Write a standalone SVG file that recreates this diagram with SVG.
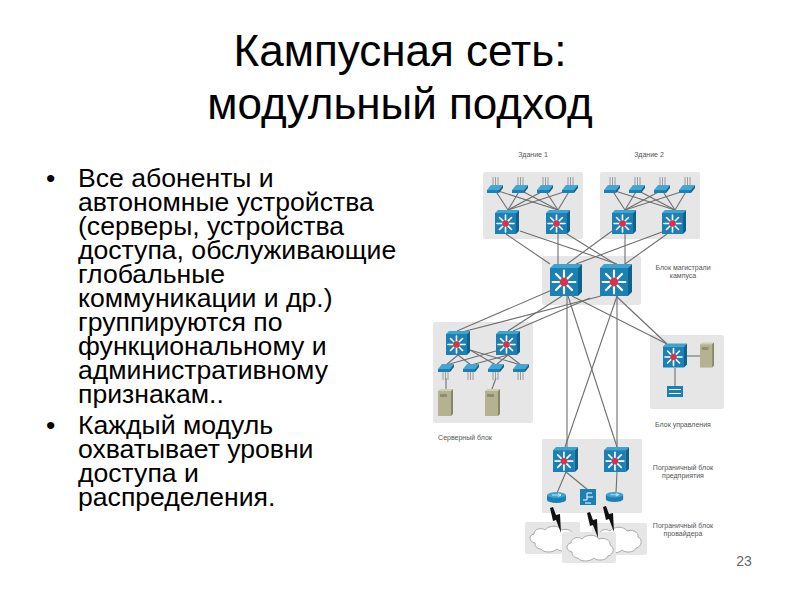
<svg xmlns="http://www.w3.org/2000/svg" xmlns:xlink="http://www.w3.org/1999/xlink" width="800" height="600" viewBox="0 0 800 600">
<style>
text{font-family:"Liberation Sans",Arial,sans-serif}
.title{font-size:44px;fill:#000;text-anchor:middle}
.body{font-size:26.6px;fill:#000}
.lab{font-size:7px;fill:#555;text-anchor:middle}
.panel{fill:#e6e6e6}
.c line{stroke:#6f6f6f;stroke-width:1.1}
.cloudp{fill:#fff;stroke:#aaa;stroke-width:1}
.bolt{fill:#111}
</style>
<defs>
<symbol id="sw" viewBox="0 0 24 24">
<polygon points="0,3 3,0 24,0 21,3" fill="#3fa3cf"/>
<polygon points="21,3 24,0 24,21 21,24" fill="#11618d"/>
<rect x="0" y="3" width="21" height="21" fill="#1b80b4"/>
<g stroke="#fff" stroke-width="1.6" stroke-linecap="round">
<line x1="10.500" y1="5" x2="10.500" y2="22"/><line x1="2" y1="13.500" x2="19" y2="13.500"/>
<line x1="4.500" y1="7.500" x2="16.500" y2="19.500"/><line x1="16.500" y1="7.500" x2="4.500" y2="19.500"/>
</g>
<circle cx="10.500" cy="13.500" r="3.300" fill="#d8324c"/>
</symbol>
<symbol id="acc" viewBox="0 0 16 16">
<g stroke="#888" stroke-width=".8"><line x1="6" y1="0" x2="6" y2="9"/><line x1="8.500" y1="0" x2="8.500" y2="9"/><line x1="11" y1="0" x2="11" y2="9"/></g>
<polygon points="0,13 4,8 16,8 12,13" fill="#44a6d2"/>
<polygon points="0,13 12,13 12,16 0,16" fill="#1b80b4"/>
<polygon points="12,13 16,8 16,11 12,16" fill="#11618d"/>
</symbol>
<symbol id="accd" viewBox="0 0 16 16">
<g stroke="#888" stroke-width=".8"><line x1="5" y1="7" x2="5" y2="16"/><line x1="7.500" y1="7" x2="7.500" y2="16"/><line x1="10" y1="7" x2="10" y2="16"/></g>
<polygon points="0,5 4,0 16,0 12,5" fill="#44a6d2"/>
<polygon points="0,5 12,5 12,8 0,8" fill="#1b80b4"/>
<polygon points="12,5 16,0 16,3 12,8" fill="#11618d"/>
</symbol>
<symbol id="srv" viewBox="0 0 15 27">
<polygon points="0,2 2,0 15,0 13,2" fill="#cfcfb4"/>
<rect x="0" y="2" width="13" height="25" fill="#b3b392"/>
<polygon points="13,2 15,0 15,25 13,27" fill="#85856a"/>
<rect x="2" y="5" width="7" height="3" fill="#8d8d72"/>
</symbol>
<symbol id="rt" viewBox="0 0 19 11">
<rect x="0" y="3" width="19" height="5" fill="#1b80b4"/>
<ellipse cx="9.500" cy="8" rx="9.500" ry="3" fill="#1b80b4"/>
<ellipse cx="9.500" cy="3" rx="9.500" ry="3" fill="#3fa3cf"/>
<path d="M5 3h9M11 1.500l3 1.500-3 1.500" stroke="#fff" stroke-width=".7" fill="none"/>
</symbol>
<path id="cloud" d="M8 20C2 19 1 12 7 11C7 6 14 4 18 7C22 2 32 2 35 7C40 5 47 8 46 13C51 15 50 23 44 24C42 29 33 29 30 26C26 30 16 30 14 26C11 26 8 24 8 20Z"/>
<polygon id="bolt" points="3,0 6,8 10,7 11,26 6,13 3,14 0,1"/>
</defs>
<rect width="800" height="600" fill="#fff"/>

<g id="slide-title">
<text class="title" x="400" y="66">Кампусная сеть:</text>
<text class="title" x="400" y="119">модульный подход</text>
</g>
<g id="slide-body">
<text class="body" x="46" y="187">•</text>
<text class="body" x="78" y="187">Все абоненты и</text>
<text class="body" x="78" y="211">автономные устройства</text>
<text class="body" x="78" y="235">(серверы, устройства</text>
<text class="body" x="78" y="259">доступа, обслуживающие</text>
<text class="body" x="78" y="283">глобальные</text>
<text class="body" x="78" y="307">коммуникации и др.)</text>
<text class="body" x="78" y="331">группируются по</text>
<text class="body" x="78" y="355">функциональному и</text>
<text class="body" x="78" y="379">административному</text>
<text class="body" x="78" y="403">признакам..</text>
<text class="body" x="46" y="434">•</text>
<text class="body" x="78" y="434">Каждый модуль</text>
<text class="body" x="78" y="458">охватывает уровни</text>
<text class="body" x="78" y="482">доступа и</text>
<text class="body" x="78" y="506">распределения.</text>
</g>
<text id="page-number" x="744" y="566" font-size="14" fill="#666" text-anchor="middle">23</text>

<g id="panels">
<rect class="panel" x="483" y="172" width="100" height="67" rx="2"/>
<rect class="panel" x="600" y="172" width="100" height="67" rx="2"/>
<rect class="panel" x="542" y="256" width="99" height="49" rx="2"/>
<rect class="panel" x="433" y="322" width="100" height="101" rx="2"/>
<rect class="panel" x="650" y="335" width="74" height="74" rx="2"/>
<rect class="panel" x="542" y="439" width="100" height="74" rx="2"/>
<rect class="panel" x="525" y="522" width="55" height="32" rx="2"/>
<rect class="panel" x="592" y="523" width="55" height="32" rx="2"/>
</g>

<g id="connectors" class="c">
<line x1="495" y1="190" x2="508" y2="210"/><line x1="520" y1="190" x2="508" y2="210"/><line x1="545" y1="190" x2="508" y2="210"/><line x1="570" y1="190" x2="508" y2="210"/>
<line x1="495" y1="190" x2="558" y2="210"/><line x1="520" y1="190" x2="558" y2="210"/><line x1="545" y1="190" x2="558" y2="210"/><line x1="570" y1="190" x2="558" y2="210"/>
<line x1="612" y1="190" x2="625" y2="210"/><line x1="637" y1="190" x2="625" y2="210"/><line x1="662" y1="190" x2="625" y2="210"/><line x1="687" y1="190" x2="625" y2="210"/>
<line x1="612" y1="190" x2="675" y2="210"/><line x1="637" y1="190" x2="675" y2="210"/><line x1="662" y1="190" x2="675" y2="210"/><line x1="687" y1="190" x2="675" y2="210"/>
<line x1="506" y1="234" x2="550" y2="264"/><line x1="520" y1="231" x2="617" y2="264"/><line x1="558" y1="234" x2="558" y2="264"/><line x1="567" y1="234" x2="617" y2="265"/>
<line x1="612" y1="231" x2="567" y2="264"/><line x1="625" y1="234" x2="625" y2="265"/><line x1="667" y1="234" x2="625" y2="264"/><line x1="662" y1="232" x2="576" y2="264"/>
<line x1="552" y1="290" x2="457" y2="331"/><line x1="562" y1="296" x2="508" y2="331"/><line x1="601" y1="296" x2="462" y2="332"/><line x1="590" y1="298" x2="513" y2="331"/>
<line x1="572" y1="296" x2="667" y2="344"/><line x1="616" y1="296" x2="667" y2="344"/>
<line x1="567" y1="296" x2="567" y2="447"/><line x1="568" y1="296" x2="617" y2="447"/><line x1="617" y1="296" x2="617" y2="447"/><line x1="617" y1="296" x2="565" y2="447"/>
<line x1="458" y1="355" x2="446" y2="365"/><line x1="458" y1="355" x2="471" y2="365"/><line x1="470" y1="350" x2="496" y2="365"/><line x1="470" y1="350" x2="521" y2="365"/>
<line x1="496" y1="351" x2="446" y2="365"/><line x1="508" y1="355" x2="471" y2="365"/><line x1="508" y1="355" x2="496" y2="365"/><line x1="508" y1="355" x2="521" y2="365"/>
<line x1="446" y1="378" x2="446" y2="389"/><line x1="496" y1="378" x2="492" y2="389"/>
<line x1="687" y1="356" x2="700" y2="356"/><line x1="675" y1="368" x2="675" y2="386"/>
<line x1="566" y1="472" x2="557" y2="493"/><line x1="566" y1="472" x2="588" y2="490"/><line x1="617" y1="472" x2="616" y2="493"/>
</g>

<g id="building-1-access"><use href="#acc" x="487" y="177" width="16" height="16"/><use href="#acc" x="512" y="177" width="16" height="16"/><use href="#acc" x="537" y="177" width="16" height="16"/><use href="#acc" x="562" y="177" width="16" height="16"/></g>
<g id="building-2-access"><use href="#acc" x="604" y="177" width="16" height="16"/><use href="#acc" x="629" y="177" width="16" height="16"/><use href="#acc" x="654" y="177" width="16" height="16"/><use href="#acc" x="679" y="177" width="16" height="16"/></g>
<g id="building-1-dist"><use href="#sw" x="495" y="210" width="24" height="24"/><use href="#sw" x="546" y="210" width="24" height="24"/></g>
<g id="building-2-dist"><use href="#sw" x="612" y="210" width="24" height="24"/><use href="#sw" x="662" y="210" width="24" height="24"/></g>
<g id="backbone"><use href="#sw" x="550" y="264" width="32" height="32"/><use href="#sw" x="600" y="264" width="32" height="32"/></g>
<g id="server-dist"><use href="#sw" x="446" y="331" width="24" height="24"/><use href="#sw" x="496" y="331" width="24" height="24"/></g>
<g id="server-access"><use href="#accd" x="438" y="364" width="16" height="16"/><use href="#accd" x="463" y="364" width="16" height="16"/><use href="#accd" x="488" y="364" width="16" height="16"/><use href="#accd" x="513" y="364" width="16" height="16"/></g>
<g id="servers"><use href="#srv" x="438" y="389" width="15" height="27"/><use href="#srv" x="485" y="389" width="15" height="27"/></g>
<g id="management">
<use href="#sw" x="663" y="343" width="24" height="25"/>
<use href="#srv" x="700" y="342" width="14" height="26"/>
<rect x="667" y="386" width="16" height="11" fill="#1b80b4"/>
<rect x="669" y="389" width="12" height="1" fill="#fff"/><rect x="669" y="393" width="12" height="1" fill="#fff"/>
</g>
<g id="edge">
<use href="#sw" x="553" y="447" width="25" height="25"/>
<use href="#sw" x="604" y="447" width="25" height="25"/>
<use href="#rt" x="547" y="492" width="19" height="11"/>
<use href="#rt" x="605" y="492" width="19" height="10"/>
<rect x="580" y="489" width="16" height="16" fill="#1b80b4"/>
<path d="M583 500h4v-7h5M587 497h6M585 503h6" stroke="#fff" stroke-width="1" fill="none"/>
</g>
<g id="provider">
<use href="#cloud" x="527" y="523" class="cloudp"/>
<use href="#cloud" x="592" y="524" class="cloudp"/>
<rect class="panel" x="562" y="532" width="54" height="31" rx="2"/>
<use href="#cloud" x="564" y="532" class="cloudp"/>
<use href="#bolt" x="550" y="507" class="bolt"/>
<use href="#bolt" x="587" y="512" class="bolt"/>
<use href="#bolt" x="603" y="506" class="bolt"/>
</g>
<g id="labels">
<text class="lab" x="533" y="157">Здание 1</text>
<text class="lab" x="649" y="157">Здание 2</text>
<text class="lab" x="683" y="270">Блок магистрали</text>
<text class="lab" x="683" y="278">кампуса</text>
<text class="lab" x="683" y="427">Блок управления</text>
<text class="lab" x="465" y="440">Серверный блок</text>
<text class="lab" x="683" y="470">Пограничный блок</text>
<text class="lab" x="683" y="478">предприятия</text>
<text class="lab" x="683" y="528">Пограничный блок</text>
<text class="lab" x="683" y="536">провайдера</text>
</g>
</svg>
